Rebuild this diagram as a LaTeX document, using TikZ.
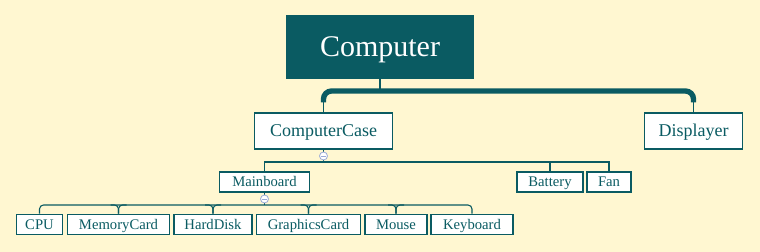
\documentclass[tikz,border=0pt]{standalone}
\usepackage{fontspec}
\setmainfont{Liberation Serif}
\usetikzlibrary{positioning}

\definecolor{teal}{HTML}{0A5B62}
\definecolor{paper}{HTML}{FFF7D1}
\definecolor{knob}{HTML}{9AAAD6}

\tikzset{
  rootbox/.style={fill=teal,text=white,minimum width=141pt,minimum height=48pt,inner sep=0pt,text height=14.8pt,text depth=0pt,font=\fontsize{22.5}{24}\selectfont},
  mainbox/.style={draw=teal,line width=0.9pt,fill=white,text=teal,minimum height=27pt,inner sep=0pt,text height=8.9pt,text depth=0pt,font=\fontsize{13.5}{15}\selectfont},
  subbox/.style={draw=teal,line width=0.8pt,fill=white,text=teal,minimum height=15.5pt,inner sep=0pt,text height=7.3pt,text depth=0pt,font=\fontsize{11}{12}\selectfont},
  link/.style={draw=teal,line width=0.8pt},
  bus/.style={draw=teal,line width=4pt,rounded corners=6pt},
  knobby/.style={circle,draw=knob,fill=white,line width=0.6pt,minimum size=6pt,inner sep=0pt}
}

\begin{document}
\begin{tikzpicture}[x=0.75pt,y=-0.75pt]
\fill[paper] (0,0) rectangle (760,252);
\useasboundingbox (0,0) rectangle (760,252);

% top level
\node[rootbox] (comp) at (380,47) {Computer};
\node[mainbox,minimum width=104pt] (case) at (323.5,131) {ComputerCase};
\node[mainbox,minimum width=74pt] (disp) at (693.5,131) {Displayer};

% second level
\node[subbox,minimum width=67pt,minimum height=15pt] (mainb) at (264.5,182) {Mainboard};
\node[subbox,minimum width=49.5pt,minimum height=15pt] (batt) at (550,182) {Battery};
\node[subbox,minimum width=33pt,minimum height=15pt] (fan) at (609,182) {Fan};

% third level
\node[subbox,minimum width=35pt] (cpu) at (39.5,224.5) {CPU};
\node[subbox,minimum width=77pt] (mem) at (118.5,224.5) {MemoryCard};
\node[subbox,minimum width=58.5pt] (hdd) at (213,224.5) {HardDisk};
\node[subbox,minimum width=78.5pt] (gpu) at (308.5,224.5) {GraphicsCard};
\node[subbox,minimum width=46.5pt] (mouse) at (396,224.5) {Mouse};
\node[subbox,minimum width=61.5pt] (kbd) at (472,224.5) {Keyboard};

\coordinate (h1) at (380,91);
\coordinate (h2) at (323.5,162);
\coordinate (h3) at (264.5,205);

% computer -> case, displayer
\draw[link] (comp.south) -- (h1);
\draw[link] (case.north) -- ++(0,-16);
\draw[link] (disp.north) -- ++(0,-16);
\draw[bus] (case.north) ++(0,-10) |- (h1) -| ([yshift=7.5pt]disp.north);

% case -> mainboard, battery, fan
\draw[link] (case.south) -- (h2);
\draw[link] (mainb.north) |- (fan.north |- h2) -- (fan.north);
\draw[link] (batt.north) -- (batt.north |- h2);

% mainboard -> parts
\draw[link] (mainb.south) -- (h3);
\draw[link,rounded corners=3pt] (cpu.north) |- (kbd.north |- h3) -- (kbd.north);
\foreach \part in {mem,hdd,gpu,mouse}{
  \draw[link,rounded corners=3pt] ([xshift=-6pt]\part.north |- h3) -| (\part.north);
  \draw[link,rounded corners=3pt] ([xshift=6pt]\part.north |- h3) -| (\part.north);
}

% collapse knobs
\node[knobby] (k1) at (323.5,156) {};
\draw[knob,line width=0.6pt] ([xshift=-1.8pt]k1.center) -- ([xshift=1.8pt]k1.center);
\node[knobby] (k2) at (264.5,199) {};
\draw[knob,line width=0.6pt] ([xshift=-1.8pt]k2.center) -- ([xshift=1.8pt]k2.center);
\end{tikzpicture}
\end{document}
